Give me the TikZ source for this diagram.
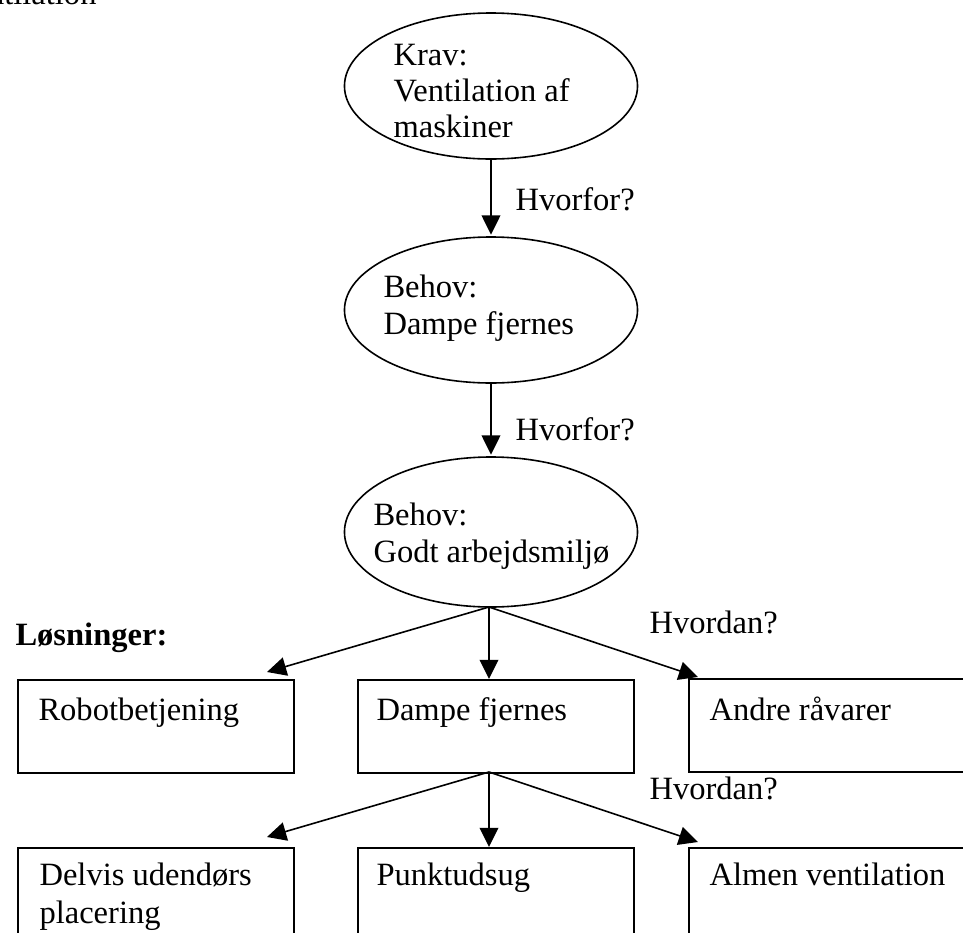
\documentclass[tikz,border=0pt]{standalone}
\usepackage{fontspec}
\setmainfont{Liberation Serif}
\usetikzlibrary{shapes.geometric,arrows.meta}
\begin{document}
\begin{tikzpicture}[x=0.375pt,y=-0.375pt,
  font=\fontsize{12.2}{13.8}\selectfont,
  ell/.style={draw,line width=0.6pt,ellipse,minimum width=109.9pt,minimum height=54.75pt,inner sep=0pt},
  box/.style={draw,line width=0.6pt,rectangle,anchor=north west,minimum width=103.5pt,minimum height=34.9pt,inner sep=0pt},
  txt/.style={anchor=base west,inner sep=0pt},
  arr/.style={line width=0.6pt,-{Triangle[length=7.2pt,width=7pt]}}]
\useasboundingbox (0,0) rectangle (963,933);

% cut-off heading
\node[anchor=base east,inner sep=0pt] (head) at (97,4) {Ventilation};

% ellipses
\node[ell] (e1) at (491,86) {};
\node[txt] (e1a) at (393,65) {Krav:};
\node[txt] (e1b) at (393,101) {Ventilation af};
\node[txt] (e1c) at (393,137) {maskiner};

\node[ell] (e2) at (491,310) {};
\node[txt] (e2a) at (383,297) {Behov:};
\node[txt] (e2b) at (383,334) {Dampe fjernes};

\node[ell,minimum height=56.25pt] (e3) at (491,532) {};
\node[txt] (e3a) at (373,525) {Behov:};
\node[txt] (e3b) at (373,562) {Godt arbejdsmiljø};

\draw[arr,shorten >=0.6pt] (e1.south) -- (e2.north);
\draw[arr,shorten >=0.6pt] (e2.south) -- (e3.north);
\node[txt] (q1) at (515,210) {Hvorfor?};
\node[txt] (q2) at (515,440) {Hvorfor?};

% labels
\node[txt,font=\fontsize{12.2}{13.8}\selectfont\bfseries] (los) at (15,645) {Løsninger:};
\node[txt] (h1) at (649,633) {Hvordan?};
\node[txt] (h2) at (649,799) {Hvordan?};

% row 1 boxes
\node[box] (b1) at (17,679) {};
\node[box] (b2) at (357,679) {};
\node[box] (b3) at (688,678) {};
\node[txt] (t1) at (38,720) {Robotbetjening};
\node[txt] (t2) at (376,720) {Dampe fjernes};
\node[txt] (t3) at (709,720) {Andre råvarer};

% row 2 boxes
\node[box,minimum height=45pt] (c1) at (17,847) {};
\node[box,minimum height=45pt] (c2) at (357,847) {};
\node[box,minimum height=45pt] (c3) at (688,847) {};
\node[txt] (u1) at (39,885) {Delvis udendørs};
\node[txt] (u1b) at (39,923) {placering};
\node[txt] (u2) at (376,885) {Punktudsug};
\node[txt] (u3) at (709,885) {Almen ventilation};

% arrows to row 1
\coordinate (s1) at (489,607);
\coordinate (l1) at (267,672);
\coordinate (r1) at (698,677);
\draw[arr] (s1) -- (l1);
\draw[arr] (s1) -- (s1 |- b2.north);
\draw[arr] (s1) -- (r1);

% arrows to row 2
\coordinate (s2) at (489,772);
\coordinate (l2) at (267,837);
\coordinate (r2) at (698,842);
\draw[arr] (s2) -- (l2);
\draw[arr] (s2) -- (s2 |- c2.north);
\draw[arr] (s2) -- (r2);
\end{tikzpicture}
\end{document}
